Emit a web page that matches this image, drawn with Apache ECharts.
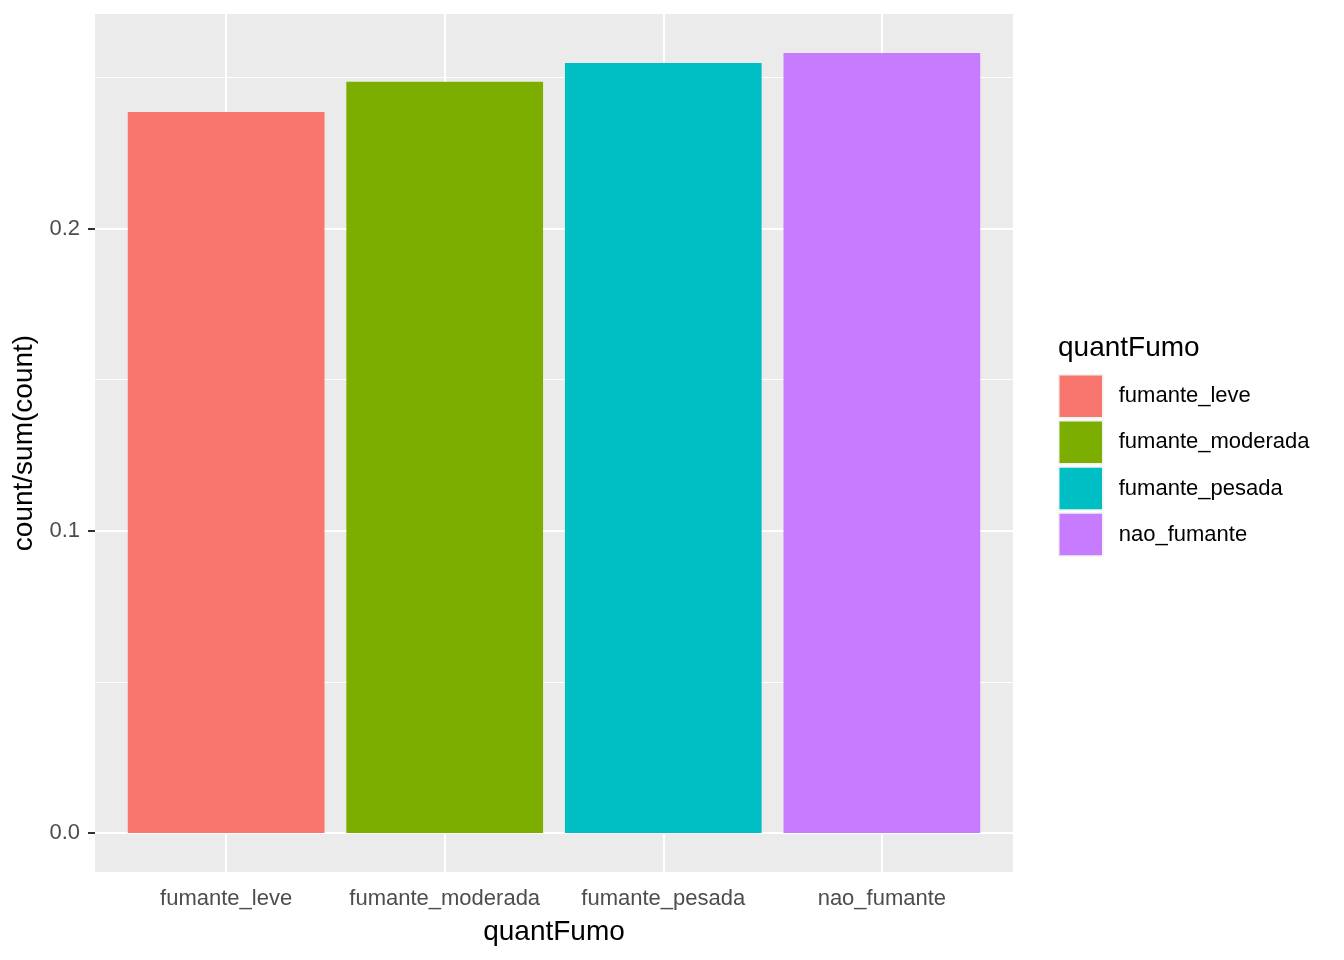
<!DOCTYPE html>
<html>
<head>
<meta charset="utf-8">
<title>quantFumo</title>
<script src="https://cdn.jsdelivr.net/npm/echarts@6/dist/echarts.min.js"></script>
<style>
  html, body { margin: 0; padding: 0; background: #fff; }
  #chart { width: 1344px; height: 960px; }
</style>
</head>
<body>
<div id="chart"></div>
<script>
// == Data ====================================================================

const categories = ['fumante_leve', 'fumante_moderada', 'fumante_pesada', 'nao_fumante']
const proportions = [0.2386, 0.2486, 0.2548, 0.2581]
const colors = ['#F8766D', '#7CAE00', '#00BFC4', '#C77CFF']
const yTicks = [0, 0.1, 0.2]
const yMinorTicks = [0.05, 0.15, 0.25]
const xTicks = [1, 2, 3, 4]

// == Scales (ggplot style expansion) ==========================================

const yMax = Math.max(...proportions) * 1.05
const yMin = -Math.max(...proportions) * 0.05
const font = 'Liberation Sans, Arial, sans-serif'
const gridLeft = 95
const gridWidth = 918
const unit = gridWidth / (categories.length - 1 + 1.2)

// gridlines live on a dummy series so they sit under the bars
const gridLines = []
yTicks.forEach(v => gridLines.push({yAxis: v, lineStyle: {width: 2}}))
yMinorTicks.forEach(v => gridLines.push({yAxis: v, lineStyle: {width: 1}}))
xTicks.forEach(v => gridLines.push({xAxis: v, lineStyle: {width: 2}}))

const series = [{
  name: 'grid',
  type: 'line',
  data: [],
  silent: true,
  markLine: {
    z: 1,
    silent: true,
    animation: false,
    symbol: ['none', 'none'],
    label: {show: false},
    lineStyle: {color: '#FFFFFF', type: 'solid'},
    data: gridLines
  }
}]

categories.forEach((name, i) => {
  series.push({
    name,
    type: 'bar',
    z: 10,
    barWidth: unit * 0.9,
    barGap: '-100%',
    itemStyle: {color: colors[i]},
    data: [[xTicks[i], proportions[i]]]
  })
})

const option = {
  animation: false,
  textStyle: {fontFamily: font},
  title: {
    text: 'quantFumo',
    left: 1058,
    top: 334,
    padding: 0,
    textStyle: {fontSize: 28, fontWeight: 'normal', color: '#000', fontFamily: font}
  },
  legend: {
    data: categories,
    orient: 'vertical',
    left: 1058,
    top: 374,
    padding: 0,
    icon: 'rect',
    itemWidth: 44,
    itemHeight: 43,
    itemGap: 1.6,
    selectedMode: false,
    itemStyle: {borderColor: '#F2F2F2', borderWidth: 1.5},
    textStyle: {fontSize: 22, color: '#000', fontFamily: font, padding: [6, 0, 0, 11]}
  },
  grid: {
    left: gridLeft,
    top: 14,
    width: gridWidth,
    height: 858,
    show: true,
    backgroundColor: '#EBEBEB',
    borderWidth: 0
  },
  xAxis: {
    type: 'value',
    min: 0.4,
    max: categories.length + 0.6,
    name: 'quantFumo',
    nameLocation: 'middle',
    nameGap: 46,
    nameTextStyle: {fontSize: 28, color: '#000', fontFamily: font},
    axisLine: {show: false},
    splitLine: {show: false},
    axisTick: {show: true, customValues: xTicks, length: 7, lineStyle: {color: '#333333', width: 2}},
    axisLabel: {
      customValues: xTicks,
      formatter: v => categories[Math.round(v) - 1],
      fontSize: 22,
      color: '#4D4D4D',
      margin: 16,
      fontFamily: font
    }
  },
  yAxis: {
    type: 'value',
    min: yMin,
    max: yMax,
    name: 'count/sum(count)',
    nameLocation: 'middle',
    nameRotate: 90,
    nameGap: 50,
    nameTextStyle: {fontSize: 28, color: '#000', fontFamily: font},
    axisLine: {show: false},
    splitLine: {show: false},
    axisTick: {show: true, customValues: yTicks, length: 7, lineStyle: {color: '#333333', width: 2}},
    axisLabel: {
      customValues: yTicks,
      formatter: v => v.toFixed(1),
      fontSize: 22,
      color: '#4D4D4D',
      margin: 15,
      padding: [4, 0, 0, 0],
      fontFamily: font
    }
  },
  series
}

const myChart = echarts.init(document.getElementById('chart'))
myChart.setOption(option)
</script>
</body>
</html>
